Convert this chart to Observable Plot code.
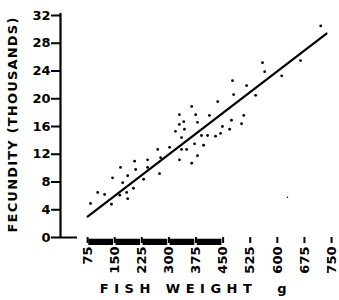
<!DOCTYPE html>
<html>
<head>
<meta charset="utf-8">
<script src="https://cdn.jsdelivr.net/npm/d3@7"></script>
<script src="https://cdn.jsdelivr.net/npm/@observablehq/plot@0.6"></script>
<style>
  html, body { margin: 0; padding: 0; background: #fff; }
  #chart svg { display: block; }
  g[aria-label*="axis"] path, g[aria-label*="axis"] line { stroke-width: 2px; }
</style>
</head>
<body>
<div id="chart"></div>
<script>
// Fish weight (g) and fecundity (thousands of eggs)
const weight = [83,103,122,141,144,166,172,164,183,186,186,202,205,208,230,241,241,269,274,277,
  302,318,329,329,329,335,335,341,343,349,363,371,374,379,379,363,435,412,507,473,
  501,448,468,390,407,443,429,396,476,515,479,540,559,565,664,612,720];
const fecundity = [4.9,6.5,6.2,4.8,8.6,10.1,7.9,6.1,6.5,5.6,8.9,7.1,11.0,9.8,8.4,11.2,10.1,12.7,9.2,11.5,
  13.0,15.3,17.7,16.3,11.2,12.7,14.4,16.7,15.6,12.7,10.7,13.5,17.7,16.6,11.8,18.9,19.6,17.6,17.6,16.9,
  16.4,16.0,15.6,14.7,14.7,15.0,14.6,13.3,22.6,21.9,20.6,20.5,25.2,23.9,25.5,23.3,30.5];
// stray speck on the original figure
const strayWeight = [628];
const strayFecundity = [5.8];
// fitted regression line end points
const fitWeight = [75, 736];
const fitFecundity = [3.0, 29.4];
// axis ticks
const xTicks = [75,150,225,300,375,450,525,600,675,750];
const yTicks = [0,4,8,12,16,20,24,28,32];
// the solid black segments along the weight axis (75–450 g)
const barStarts = [75,150,225,300,375];
const yTitle = "FECUNDITY (THOUSANDS)";
const xTitle = "FISH WEIGHT  g";

const points = weight.map((w, i) => ({w, f: fecundity[i]}));
const stray = strayWeight.map((w, i) => ({w, f: strayFecundity[i]}));
const fit = fitWeight.map((w, i) => ({w, f: fitFecundity[i]}));

const chart = Plot.plot({
  width: 339,
  height: 300,
  marginLeft: 60,
  marginRight: 0,
  marginTop: 15,
  marginBottom: 63,
  style: {fontFamily: "'DejaVu Sans', sans-serif", fontWeight: "bold", fontSize: "13px", background: "#fff", color: "#000"},
  x: {domain: [0, 772], ticks: xTicks, tickRotate: -90, tickSize: 6, tickPadding: 3, label: null},
  y: {domain: [0, 32], ticks: yTicks, tickSize: 9, tickPadding: 1, label: null},
  marks: [
    Plot.ruleX([0], {y1: 0, y2: 32.3, stroke: "#000", strokeWidth: 2.2}),
    Plot.ruleY([0], {x1: 0, x2: 47, stroke: "#000", strokeWidth: 2}),
    Plot.rect(barStarts, {x1: d => d, x2: d => d + 75, y1: -0.25, y2: -1.15, fill: "#000", insetLeft: 1.2, insetRight: 1.2}),
    Plot.line(fit, {x: "w", y: "f", stroke: "#000", strokeWidth: 2.2}),
    Plot.dot(points, {x: "w", y: "f", r: 1.4, fill: "#000", stroke: "none"}),
    Plot.dot(stray, {x: "w", y: "f", r: 0.8, fill: "#000", stroke: "none"}),
    Plot.text([yTitle], {text: d => d, frameAnchor: "left", textAnchor: "middle", rotate: -90, dx: -48, dy: -2, fontSize: 13, fontWeight: "bold"}),
    Plot.text([xTitle], {text: d => d, frameAnchor: "bottom", textAnchor: "middle", dy: 55, dx: -4, fontSize: 13, fontWeight: "bold"})
  ]
});
document.getElementById("chart").appendChild(chart);
// letter spacing of the scanned titles
d3.select(chart).selectAll("text")
  .filter(function() { return this.textContent === xTitle; })
  .style("letter-spacing", "5.5px").style("white-space", "pre");
d3.select(chart).selectAll("text")
  .filter(function() { return this.textContent === yTitle; })
  .style("letter-spacing", "1.2px");
</script>
</body>
</html>
